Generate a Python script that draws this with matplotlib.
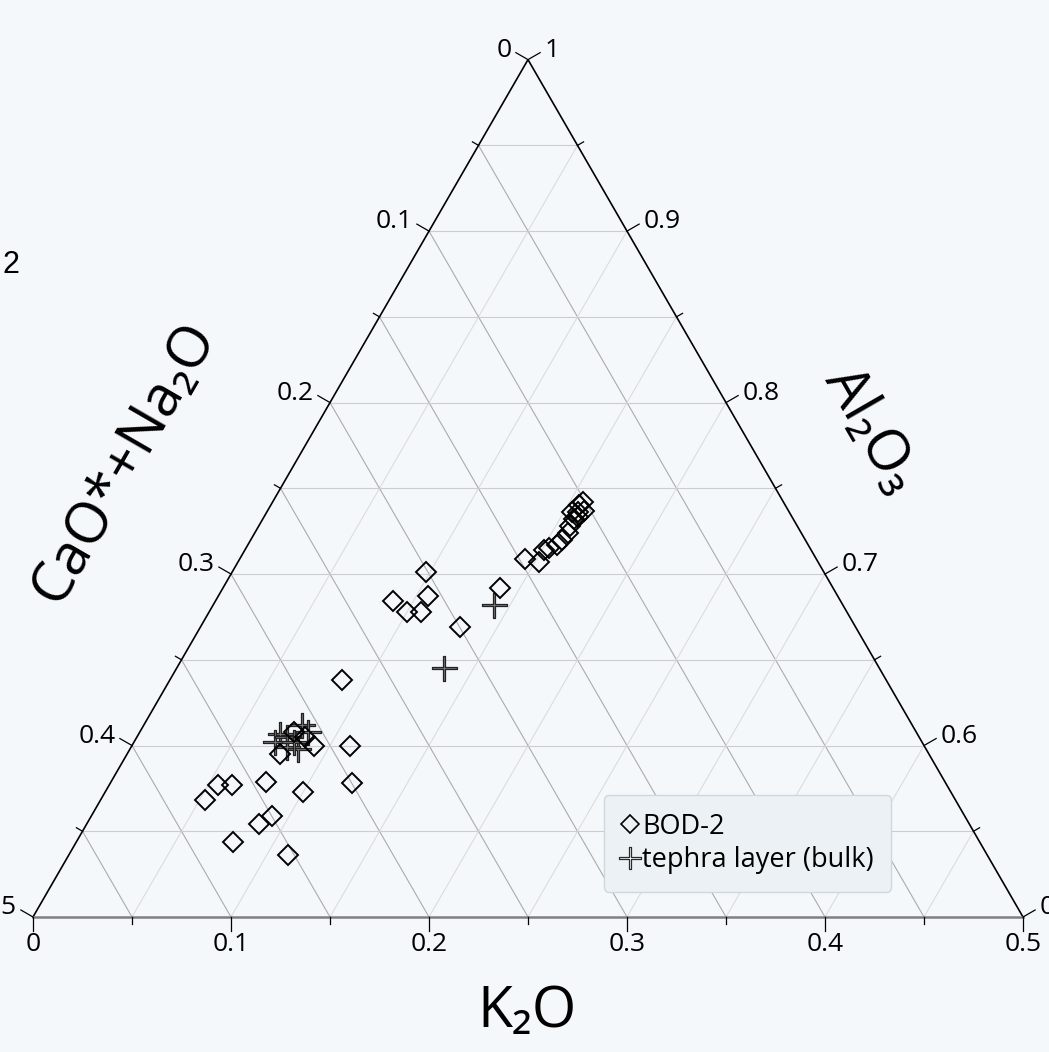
import numpy as np
import matplotlib
matplotlib.use("Agg")
import matplotlib.pyplot as plt
from matplotlib.path import Path
from matplotlib.lines import Line2D

plt.rcParams['font.family'] = ['Open Sans', 'DejaVu Sans']

# ternary values (weight fractions, K2O + CaO*+Na2O + Al2O3 = 1)
bod_k2o = [0.087, 0.110, 0.122, 0.092, 0.077, 0.078, 0.100, 0.062, 0.055, 0.053,
           0.091, 0.087, 0.079, 0.111, 0.078, 0.085,
           0.098, 0.090, 0.106, 0.100, 0.107, 0.131, 0.140,
           0.144, 0.152, 0.151, 0.153, 0.156, 0.157, 0.158, 0.157, 0.157, 0.154,
           0.157, 0.156, 0.157, 0.160, 0.159]
bod_cao = [0.275, 0.290, 0.300, 0.308, 0.328, 0.343, 0.327, 0.361, 0.368, 0.379,
           0.350, 0.359, 0.377, 0.353, 0.314, 0.310,
           0.201, 0.226, 0.207, 0.222, 0.215, 0.200, 0.168,
           0.147, 0.141, 0.135, 0.132, 0.127, 0.123, 0.118, 0.115, 0.111, 0.110,
           0.107, 0.104, 0.101, 0.103, 0.108]

teph_k2o = [0.142, 0.135, 0.071, 0.071, 0.076, 0.085, 0.080, 0.079, 0.081, 0.085]
teph_cao = [0.176, 0.220, 0.322, 0.327, 0.319, 0.317, 0.308, 0.322, 0.317, 0.307]

ticks = [0.0, 0.1, 0.2, 0.3, 0.4, 0.5]
minor = [0.05, 0.15, 0.25, 0.35, 0.45]

S3 = np.sqrt(3) / 2


def to_xy(k, c):
    k = np.asarray(k, float)
    c = np.asarray(c, float)
    return 0.25 + 0.5 * k - 0.5 * c, S3 * (0.5 - k - c)


PX = 1.0 / 1980  # one pixel in data units

fig = plt.figure(figsize=(10.49, 10.52), dpi=100)
fig.patch.set_facecolor('#f4f8fb')
ax = fig.add_axes([0, 0, 1, 1])
ax.set_facecolor('#f4f8fb')
ax.set_xlim(-33 * PX, 1016 * PX)
ax.set_ylim(-135 * PX, 917 * PX)
ax.axis('off')

# grid
for v in np.arange(0.05, 0.5, 0.05):
    x, y = to_xy([0, v], [v, 0])          # constant Al2O3
    ax.plot(x, y, color='#cdcdcd', lw=0.8, zorder=1)
    x, y = to_xy([v, v], [0, 0.5 - v])    # constant K2O
    ax.plot(x, y, color='#dcdcdc', lw=0.8, zorder=1)
    x, y = to_xy([0, 0.5 - v], [v, v])    # constant CaO*+Na2O
    ax.plot(x, y, color='#ababab', lw=0.8, zorder=1)

# triangle edges
x, y = to_xy([0, 0, 0.5], [0.5, 0, 0])
ax.plot(x, y, color='black', lw=1.2, zorder=2, solid_joinstyle='miter')
x, y = to_xy([0, 0.5], [0.5, 0])
ax.plot(x, y, color='#7f7f7f', lw=1.8, zorder=2)

tfs = 19
dl = np.array([-np.cos(np.pi / 6), np.sin(np.pi / 6)])
dr = np.array([np.cos(np.pi / 6), np.sin(np.pi / 6)])

for v in ticks + minor:
    L = (14 if v in ticks else 7) * PX
    # bottom: K2O
    x0, y0 = to_xy(v, 0.5 - v)
    ax.plot([x0, x0], [y0, y0 - L], color='black', lw=0.9, zorder=2)
    # left: CaO*+Na2O
    x0, y0 = to_xy(0, v)
    ax.plot([x0, x0 + dl[0] * L], [y0, y0 + dl[1] * L], color='black', lw=0.9, zorder=2)
    # right: Al2O3
    x0, y0 = to_xy(v, 0)
    ax.plot([x0, x0 + dr[0] * L], [y0, y0 + dr[1] * L], color='black', lw=0.9, zorder=2)

for v in ticks:
    L = 14 * PX
    x0, y0 = to_xy(v, 0.5 - v)
    ax.text(x0, y0 - L - 1 * PX, f"{v:g}", ha='center', va='top', fontsize=tfs)
    x0, y0 = to_xy(0, v)
    ax.text(x0 + dl[0] * (L + 5 * PX), y0 + dl[1] * (L + 5 * PX), f"{v:g}",
            ha='right', va='center', fontsize=tfs)
    x0, y0 = to_xy(v, 0)
    ax.text(x0 + dr[0] * (L + 5 * PX), y0 + dr[1] * (L + 5 * PX), f"{1 - v:g}",
            ha='left', va='center', fontsize=tfs)

# axis titles
ax.text(494 * PX, -95 * PX, "K₂O", ha='center', va='center', fontsize=41)
ax.text(92 * PX, 454 * PX, "CaO*+Na₂O", ha='center', va='center', fontsize=41, rotation=60)
ax.text(837 * PX, 487 * PX, "Al₂O₃", ha='center', va='center', fontsize=41, rotation=-60)
ax.text(-22 * PX, 652 * PX, "2", ha='center', va='center', fontsize=22,
        family=['Liberation Sans', 'DejaVu Sans'])

# thin plus marker
w = 0.1
plus = Path([(-w, 1), (w, 1), (w, w), (1, w), (1, -w), (w, -w), (w, -1), (-w, -1),
             (-w, -w), (-1, -w), (-1, w), (-w, w), (-w, 1)], closed=True)

x, y = to_xy(teph_k2o, teph_cao)
ax.plot(x, y, ls='none', marker=plus, ms=18, mfc='#7c7c7c', mec='#222222', mew=0.9, zorder=4)
x, y = to_xy(bod_k2o, bod_cao)
ax.plot(x, y, ls='none', marker='D', ms=10.5, mfc='none', mec='black', mew=1.4, zorder=5)

handles = [
    Line2D([], [], ls='none', marker='D', ms=9, mfc='none', mec='black', mew=1.2),
    Line2D([], [], ls='none', marker=plus, ms=16, mfc='white', mec='#2a2a2a', mew=0.9),
]
leg = ax.legend(handles, ["BOD-2", "tephra layer (bulk)"], loc='upper left',
                bbox_to_anchor=(604 / 1049, 1 - 795 / 1052), fontsize=19.5,
                frameon=True, fancybox=True, facecolor='#ebf1f5', edgecolor='#cfd8dd',
                framealpha=1, handlelength=0.6, handletextpad=0.15, labelspacing=0.2,
                borderpad=0.65, borderaxespad=0)
leg.get_frame().set_linewidth(1.0)
leg.set_zorder(6)

fig.savefig("out.png", dpi=100, facecolor=fig.get_facecolor())
